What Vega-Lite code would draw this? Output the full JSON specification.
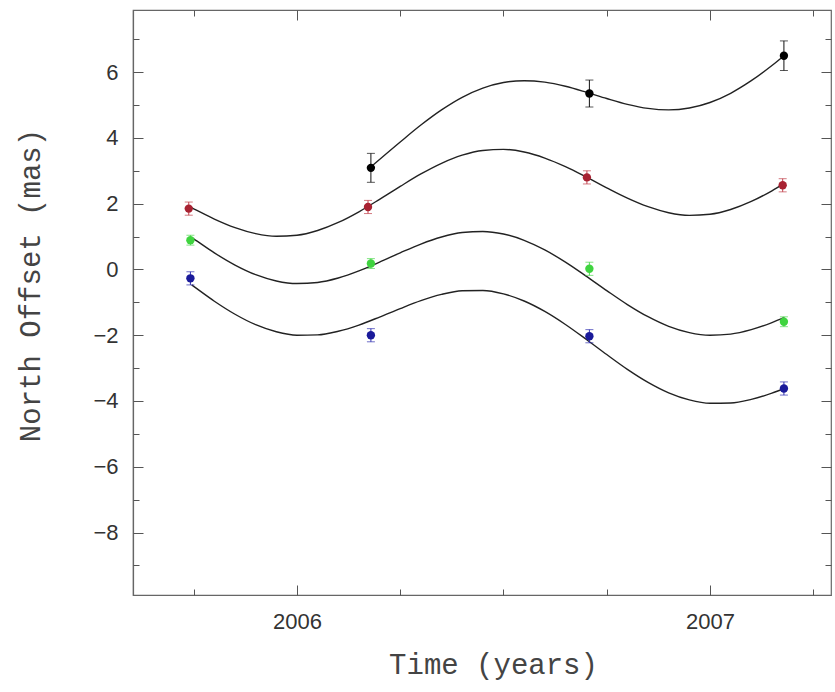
{
  "$schema": "https://vega.github.io/schema/vega-lite/v6.json",
  "width": 698,
  "height": 585,
  "autosize": {"type": "none"},
  "padding": {"left": 133, "top": 10, "right": 4, "bottom": 97},
  "background": "white",
  "config": {
    "view": {"stroke": "#666", "strokeWidth": 1.2},
    "axis": {
      "grid": false,
      "domainColor": "#666",
      "domainWidth": 1.2,
      "tickColor": "#555",
      "tickWidth": 1,
      "labelFont": "Liberation Sans",
      "labelFontSize": 22,
      "labelColor": "#333",
      "titleFont": "Liberation Mono",
      "titleFontSize": 29,
      "titleFontWeight": "normal",
      "titleColor": "#444",
      "labelOverlap": false,
      "labelFlush": false
    }
  },
  "datasets": {
    "points": [
      {"series": "A", "t": 2006.179, "y": 3.09, "err": 0.44},
      {"series": "A", "t": 2006.708, "y": 5.35, "err": 0.41},
      {"series": "A", "t": 2007.179, "y": 6.5, "err": 0.45},
      {"series": "B", "t": 2005.738, "y": 1.85, "err": 0.2},
      {"series": "B", "t": 2006.172, "y": 1.9, "err": 0.2},
      {"series": "B", "t": 2006.702, "y": 2.8, "err": 0.2},
      {"series": "B", "t": 2007.176, "y": 2.56, "err": 0.2},
      {"series": "C", "t": 2005.742, "y": 0.89, "err": 0.15},
      {"series": "C", "t": 2006.179, "y": 0.18, "err": 0.15},
      {"series": "C", "t": 2006.708, "y": 0.02, "err": 0.2},
      {"series": "C", "t": 2007.179, "y": -1.59, "err": 0.15},
      {"series": "D", "t": 2005.742, "y": -0.27, "err": 0.2},
      {"series": "D", "t": 2006.179, "y": -2.0, "err": 0.2},
      {"series": "D", "t": 2006.708, "y": -2.03, "err": 0.2},
      {"series": "D", "t": 2007.179, "y": -3.62, "err": 0.2}
    ],
    "curves": [
      {"series": "A", "t": 2006.18, "y": 3.13},
      {"series": "A", "t": 2006.25, "y": 3.876},
      {"series": "A", "t": 2006.30, "y": 4.391},
      {"series": "A", "t": 2006.35, "y": 4.852},
      {"series": "A", "t": 2006.40, "y": 5.235},
      {"series": "A", "t": 2006.45, "y": 5.515},
      {"series": "A", "t": 2006.50, "y": 5.684},
      {"series": "A", "t": 2006.55, "y": 5.740},
      {"series": "A", "t": 2006.60, "y": 5.695},
      {"series": "A", "t": 2006.65, "y": 5.570},
      {"series": "A", "t": 2006.70, "y": 5.393},
      {"series": "A", "t": 2006.75, "y": 5.199},
      {"series": "A", "t": 2006.80, "y": 5.022},
      {"series": "A", "t": 2006.85, "y": 4.898},
      {"series": "A", "t": 2006.90, "y": 4.852},
      {"series": "A", "t": 2006.95, "y": 4.909},
      {"series": "A", "t": 2007.00, "y": 5.077},
      {"series": "A", "t": 2007.05, "y": 5.358},
      {"series": "A", "t": 2007.10, "y": 5.740},
      {"series": "A", "t": 2007.15, "y": 6.202},
      {"series": "A", "t": 2007.18, "y": 6.508},

      {"series": "B", "t": 2005.745, "y": 1.876},
      {"series": "B", "t": 2005.75, "y": 1.845},
      {"series": "B", "t": 2005.80, "y": 1.531},
      {"series": "B", "t": 2005.85, "y": 1.270},
      {"series": "B", "t": 2005.90, "y": 1.088},
      {"series": "B", "t": 2005.95, "y": 1.008},
      {"series": "B", "t": 2006.00, "y": 1.040},
      {"series": "B", "t": 2006.05, "y": 1.184},
      {"series": "B", "t": 2006.10, "y": 1.429},
      {"series": "B", "t": 2006.15, "y": 1.754},
      {"series": "B", "t": 2006.20, "y": 2.132},
      {"series": "B", "t": 2006.25, "y": 2.526},
      {"series": "B", "t": 2006.30, "y": 2.904},
      {"series": "B", "t": 2006.35, "y": 3.229},
      {"series": "B", "t": 2006.40, "y": 3.475},
      {"series": "B", "t": 2006.45, "y": 3.619},
      {"series": "B", "t": 2006.50, "y": 3.651},
      {"series": "B", "t": 2006.55, "y": 3.571},
      {"series": "B", "t": 2006.60, "y": 3.388},
      {"series": "B", "t": 2006.65, "y": 3.127},
      {"series": "B", "t": 2006.70, "y": 2.813},
      {"series": "B", "t": 2006.75, "y": 2.483},
      {"series": "B", "t": 2006.80, "y": 2.169},
      {"series": "B", "t": 2006.85, "y": 1.908},
      {"series": "B", "t": 2006.90, "y": 1.726},
      {"series": "B", "t": 2006.95, "y": 1.646},
      {"series": "B", "t": 2007.00, "y": 1.678},
      {"series": "B", "t": 2007.05, "y": 1.822},
      {"series": "B", "t": 2007.10, "y": 2.067},
      {"series": "B", "t": 2007.15, "y": 2.392},
      {"series": "B", "t": 2007.18, "y": 2.617},

      {"series": "C", "t": 2005.745, "y": 0.97},
      {"series": "C", "t": 2005.75, "y": 0.929},
      {"series": "C", "t": 2005.80, "y": 0.504},
      {"series": "C", "t": 2005.85, "y": 0.133},
      {"series": "C", "t": 2005.90, "y": -0.160},
      {"series": "C", "t": 2005.95, "y": -0.350},
      {"series": "C", "t": 2006.00, "y": -0.429},
      {"series": "C", "t": 2006.05, "y": -0.395},
      {"series": "C", "t": 2006.10, "y": -0.260},
      {"series": "C", "t": 2006.15, "y": -0.045},
      {"series": "C", "t": 2006.20, "y": 0.222},
      {"series": "C", "t": 2006.25, "y": 0.505},
      {"series": "C", "t": 2006.30, "y": 0.773},
      {"series": "C", "t": 2006.35, "y": 0.987},
      {"series": "C", "t": 2006.40, "y": 1.123},
      {"series": "C", "t": 2006.45, "y": 1.156},
      {"series": "C", "t": 2006.50, "y": 1.078},
      {"series": "C", "t": 2006.55, "y": 0.887},
      {"series": "C", "t": 2006.60, "y": 0.594},
      {"series": "C", "t": 2006.65, "y": 0.223},
      {"series": "C", "t": 2006.70, "y": -0.202},
      {"series": "C", "t": 2006.75, "y": -0.642},
      {"series": "C", "t": 2006.80, "y": -1.067},
      {"series": "C", "t": 2006.85, "y": -1.438},
      {"series": "C", "t": 2006.90, "y": -1.731},
      {"series": "C", "t": 2006.95, "y": -1.921},
      {"series": "C", "t": 2007.00, "y": -2.000},
      {"series": "C", "t": 2007.05, "y": -1.966},
      {"series": "C", "t": 2007.10, "y": -1.831},
      {"series": "C", "t": 2007.15, "y": -1.617},
      {"series": "C", "t": 2007.18, "y": -1.458},

      {"series": "D", "t": 2005.745, "y": -0.471},
      {"series": "D", "t": 2005.75, "y": -0.516},
      {"series": "D", "t": 2005.80, "y": -0.966},
      {"series": "D", "t": 2005.85, "y": -1.362},
      {"series": "D", "t": 2005.90, "y": -1.680},
      {"series": "D", "t": 2005.95, "y": -1.895},
      {"series": "D", "t": 2006.00, "y": -1.999},
      {"series": "D", "t": 2006.05, "y": -1.991},
      {"series": "D", "t": 2006.10, "y": -1.880},
      {"series": "D", "t": 2006.15, "y": -1.691},
      {"series": "D", "t": 2006.20, "y": -1.448},
      {"series": "D", "t": 2006.25, "y": -1.190},
      {"series": "D", "t": 2006.30, "y": -0.948},
      {"series": "D", "t": 2006.35, "y": -0.758},
      {"series": "D", "t": 2006.40, "y": -0.648},
      {"series": "D", "t": 2006.45, "y": -0.639},
      {"series": "D", "t": 2006.50, "y": -0.743},
      {"series": "D", "t": 2006.55, "y": -0.959},
      {"series": "D", "t": 2006.60, "y": -1.276},
      {"series": "D", "t": 2006.65, "y": -1.673},
      {"series": "D", "t": 2006.70, "y": -2.122},
      {"series": "D", "t": 2006.75, "y": -2.588},
      {"series": "D", "t": 2006.80, "y": -3.038},
      {"series": "D", "t": 2006.85, "y": -3.434},
      {"series": "D", "t": 2006.90, "y": -3.752},
      {"series": "D", "t": 2006.95, "y": -3.967},
      {"series": "D", "t": 2007.00, "y": -4.071},
      {"series": "D", "t": 2007.05, "y": -4.063},
      {"series": "D", "t": 2007.10, "y": -3.952},
      {"series": "D", "t": 2007.15, "y": -3.763},
      {"series": "D", "t": 2007.18, "y": -3.620}
    ]
  },
  "layer": [
    {
      "data": {"name": "curves"},
      "mark": {"type": "line", "interpolate": "monotone", "color": "#222", "strokeWidth": 1.4},
      "encoding": {
        "x": {
          "field": "t", "type": "quantitative",
          "scale": {"domain": [2005.603, 2007.293], "nice": false, "zero": false},
          "axis": {
            "orient": "bottom",
            "values": [2006, 2007],
            "labelExpr": "'' + datum.value",
            "ticks": false,
            "labelPadding": 16,
            "title": "Time (years)",
            "titleX": 360,
            "titleY": 78,
            "titleBaseline": "alphabetic",
            "titleAnchor": "middle",
            "titleAlign": "center"
          }
        },
        "y": {
          "field": "y", "type": "quantitative",
          "scale": {"domain": [-9.9, 7.89], "nice": false, "zero": false},
          "axis": {
            "orient": "left",
            "values": [-8, -6, -4, -2, 0, 2, 4, 6],
            "format": "d",
            "ticks": false,
            "labelPadding": 15,
            "title": "North Offset (mas)",
            "titleX": -103,
            "titleY": 275,
            "titleAngle": -90,
            "titleAlign": "center",
            "titleBaseline": "middle"
          }
        },
        "detail": {"field": "series"}
      }
    },
    {
      "data": {"name": "points"},
      "mark": {"type": "errorbar", "ticks": {"size": 8, "thickness": 1}, "thickness": 1},
      "encoding": {
        "x": {"field": "t", "type": "quantitative", "axis": null},
        "y": {"field": "y", "type": "quantitative", "axis": null},
        "yError": {"field": "err"},
        "color": {
          "field": "series", "type": "nominal", "legend": null,
          "scale": {"domain": ["A", "B", "C", "D"], "range": ["#111111", "#c0404a", "#50d850", "#3030b0"]}
        }
      }
    },
    {
      "data": {"name": "points"},
      "mark": {"type": "circle", "size": 70, "opacity": 1},
      "encoding": {
        "x": {"field": "t", "type": "quantitative", "axis": null},
        "y": {"field": "y", "type": "quantitative", "axis": null},
        "color": {
          "field": "series", "type": "nominal", "legend": null,
          "scale": {"domain": ["A", "B", "C", "D"], "range": ["#000000", "#a82232", "#3fd43f", "#1a1a9a"]}
        }
      }
    },
    {
      "data": {"name": "curves"},
      "mark": {"type": "line", "opacity": 0},
      "encoding": {
        "x": {"field": "t", "type": "quantitative",
          "axis": {"orient": "bottom", "domain": false, "labels": false, "title": null,
                   "values": [2006, 2007], "tickSize": -10}},
        "y": {"field": "y", "type": "quantitative",
          "axis": {"orient": "left", "domain": false, "labels": false, "title": null,
                   "values": [-8, -6, -4, -2, 0, 2, 4, 6], "tickSize": -10}},
        "detail": {"field": "series"}
      }
    },
    {
      "data": {"name": "curves"},
      "mark": {"type": "line", "opacity": 0},
      "encoding": {
        "x": {"field": "t", "type": "quantitative",
          "axis": {"orient": "bottom", "domain": false, "labels": false, "title": null,
                   "values": [2005.75, 2006.25, 2006.5, 2006.75, 2007.25], "tickSize": -6}},
        "y": {"field": "y", "type": "quantitative",
          "axis": {"orient": "left", "domain": false, "labels": false, "title": null,
                   "values": [-9, -7, -5, -3, -1, 1, 3, 5, 7], "tickSize": -6}},
        "detail": {"field": "series"}
      }
    },
    {
      "data": {"name": "curves"},
      "mark": {"type": "line", "opacity": 0},
      "encoding": {
        "x": {"field": "t", "type": "quantitative",
          "axis": {"orient": "top", "domain": false, "labels": false, "title": null,
                   "values": [2006, 2007], "tickSize": -10}},
        "y": {"field": "y", "type": "quantitative",
          "axis": {"orient": "right", "domain": false, "labels": false, "title": null,
                   "values": [-8, -6, -4, -2, 0, 2, 4, 6], "tickSize": -10}},
        "detail": {"field": "series"}
      }
    },
    {
      "data": {"name": "curves"},
      "mark": {"type": "line", "opacity": 0},
      "encoding": {
        "x": {"field": "t", "type": "quantitative",
          "axis": {"orient": "top", "domain": false, "labels": false, "title": null,
                   "values": [2005.75, 2006.25, 2006.5, 2006.75, 2007.25], "tickSize": -6}},
        "y": {"field": "y", "type": "quantitative",
          "axis": {"orient": "right", "domain": false, "labels": false, "title": null,
                   "values": [-9, -7, -5, -3, -1, 1, 3, 5, 7], "tickSize": -6}},
        "detail": {"field": "series"}
      }
    }
  ],
  "resolve": {"axis": {"x": "independent", "y": "independent"}, "scale": {"color": "independent"}}
}
